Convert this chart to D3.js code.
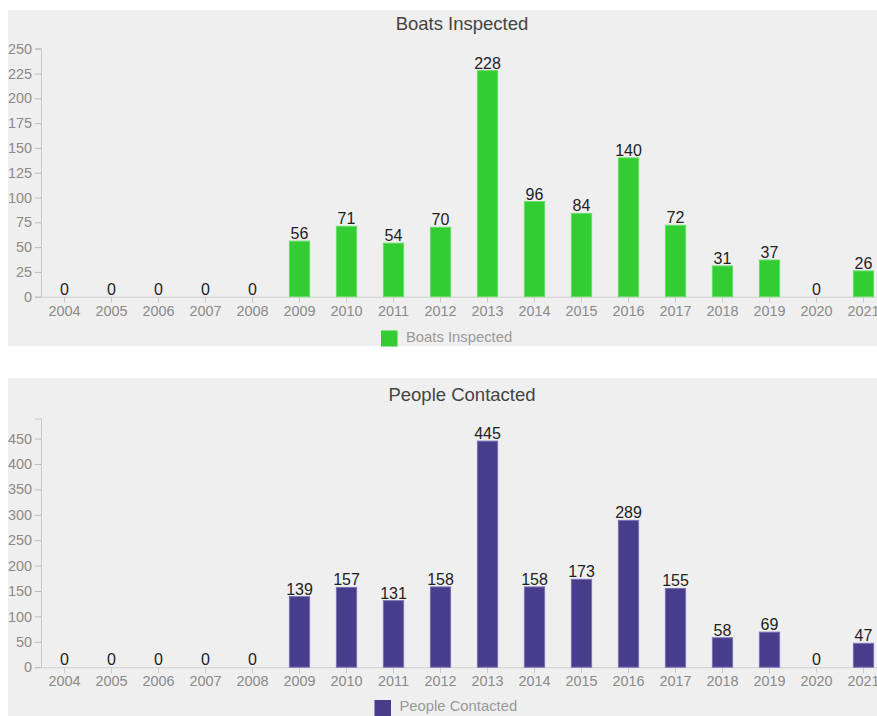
<!DOCTYPE html>
<html>
<head>
<meta charset="utf-8">
<script src="https://cdn.jsdelivr.net/npm/d3@7"></script>
<style>
  html, body { margin: 0; padding: 0; background: #fff; overflow: hidden; }
  svg { display: block; font-family: "Liberation Sans", Arial, Helvetica, sans-serif; }
</style>
</head>
<body>
<svg id="chart" width="877" height="716"></svg>
<script>
const years = ["2004","2005","2006","2007","2008","2009","2010","2011","2012","2013","2014","2015","2016","2017","2018","2019","2020","2021"];
const boatsInspected = [0,0,0,0,0,56,71,54,70,228,96,84,140,72,31,37,0,26];
const peopleContacted = [0,0,0,0,0,139,157,131,158,445,158,173,289,155,58,69,0,47];
const boatsTicks = [0,25,50,75,100,125,150,175,200,225,250];
const peopleTicks = [0,50,100,150,200,250,300,350,400,450];

const svg = d3.select("#chart");

function drawPanel(cfg) {
  const g = svg.append("g");
  g.append("rect")
    .attr("x", 8).attr("y", cfg.panelTop)
    .attr("width", 920).attr("height", cfg.panelHeight)
    .attr("fill", "#efefef");

  const top = cfg.contentTop;
  const plotTop = top + 38, plotBottom = top + 286.7;
  const x = d3.scaleBand().domain(years).range([41, 887]).paddingInner(0.57).paddingOuter(0.285);
  const y = d3.scaleLinear().domain([0, d3.max(cfg.values) * 1.1]).range([plotBottom, plotTop]);

  g.append("text")
    .attr("x", 462).attr("y", top + 20)
    .attr("text-anchor", "middle")
    .attr("font-size", 18.5)
    .attr("fill", "#444")
    .text(cfg.title);

  const yAxis = d3.axisLeft(y).tickValues(cfg.ticks).tickSize(6).tickPadding(3);
  const ya = g.append("g").attr("transform", "translate(41,0)").call(yAxis);
  ya.select(".domain").attr("stroke", "#c8c8c8");
  ya.selectAll(".tick line").attr("stroke", "#bbb");
  ya.selectAll(".tick text").attr("fill", "#8a8a8a").attr("font-size", 14.4)
    .attr("font-family", "Liberation Sans, Arial, sans-serif");

  const xAxis = d3.axisBottom(x).tickSize(6).tickPadding(3).tickSizeOuter(0);
  const xa = g.append("g").attr("transform", `translate(0,${plotBottom})`).call(xAxis);
  xa.select(".domain").attr("stroke", "#d0d0d0");
  xa.selectAll(".tick line").attr("stroke", "#ccc");
  xa.selectAll(".tick text").attr("fill", "#8a8a8a").attr("font-size", 14.4)
    .attr("font-family", "Liberation Sans, Arial, sans-serif");

  g.selectAll("rect.bar").data(cfg.values).enter().append("rect")
    .attr("class", "bar")
    .attr("x", (d, i) => x(years[i]))
    .attr("width", x.bandwidth())
    .attr("y", d => y(d))
    .attr("height", d => plotBottom - y(d))
    .attr("fill", cfg.color)
    .attr("stroke", cfg.stroke)
    .attr("stroke-width", 1);

  g.selectAll("text.val").data(cfg.values).enter().append("text")
    .attr("class", "val")
    .attr("x", (d, i) => x(years[i]) + x.bandwidth() / 2)
    .attr("y", d => y(d) - 2)
    .attr("text-anchor", "middle")
    .attr("font-size", 16)
    .attr("fill", "#222")
    .text(d => d);

  const lg = g.append("g");
  lg.append("text")
    .attr("x", cfg.legendX + 25).attr("y", cfg.legendBase)
    .attr("font-size", 14.8)
    .attr("fill", "#999")
    .text(cfg.title);
  lg.append("rect")
    .attr("x", cfg.legendX).attr("y", cfg.legendBase - 11)
    .attr("width", 16.5).attr("height", 16)
    .attr("fill", cfg.color);
}

drawPanel({
  panelTop: 10, panelHeight: 336, contentTop: 10,
  title: "Boats Inspected", values: boatsInspected, ticks: boatsTicks,
  color: "#33cc33", stroke: "#66dd66",
  legendX: 381, legendBase: 341.5
});

drawPanel({
  panelTop: 378, panelHeight: 360, contentTop: 380.5,
  title: "People Contacted", values: peopleContacted, ticks: peopleTicks,
  color: "#483d8b", stroke: "#7a70b8",
  legendX: 374.5, legendBase: 711
});
</script>
</body>
</html>
